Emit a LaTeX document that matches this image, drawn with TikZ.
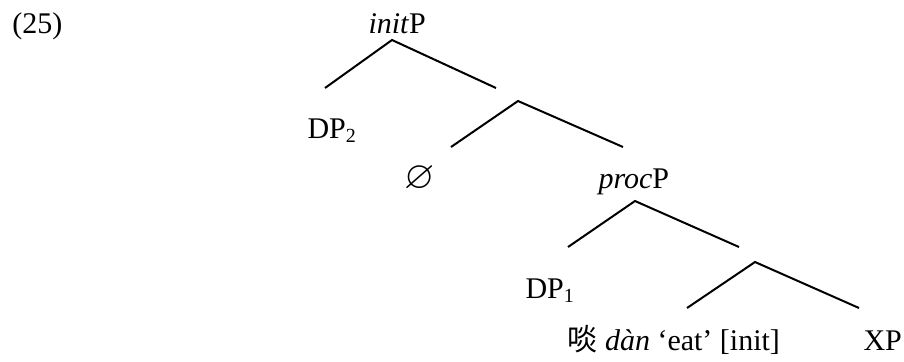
\documentclass[tikz,border=0pt]{standalone}
\usepackage{fontspec}
\usepackage{amssymb}
\setmainfont{Liberation Serif}
\newfontfamily\cjk{Noto Sans CJK SC}
\begin{document}
\begin{tikzpicture}[x=0.4pt,y=-0.4pt,
  lab/.style={anchor=base west,inner sep=0pt,font=\fontsize{12}{14}\selectfont},
  branch/.style={line width=0.8pt,line cap=butt}]
\useasboundingbox (0,0) rectangle (904,361);
\newcommand{\subnum}[1]{\raisebox{-1.6pt}{\fontsize{8}{8}\selectfont #1}}
% labels
\node[lab] (ex) at (12,33) {(25)};
\node[lab] (initP) at (368,33) {\textit{init}P};
\node[lab] (DPtwo) at (307,138) {DP\subnum{2}};
\node[lab] (empty) at (404,188) {\scalebox{1.3}{$\varnothing$}};
\node[lab] (procP) at (598,188) {\textit{proc}P};
\node[lab] (DPone) at (525,298) {DP\subnum{1}};
\node[lab] (verb) at (567,350) {{\cjk 啖} \textit{dàn} ‘eat’ [init]};
\node[lab] (XP) at (863,350) {XP};
% branch points
\coordinate (a0) at (392,40);  \coordinate (a0l) at (325,88);  \coordinate (a0r) at (496,88);
\coordinate (a1) at (518,101); \coordinate (a1l) at (451,147); \coordinate (a1r) at (623,147);
\coordinate (a2) at (635,201); \coordinate (a2l) at (568,247); \coordinate (a2r) at (739,247);
\coordinate (a3) at (755,262); \coordinate (a3l) at (687,308); \coordinate (a3r) at (859,308);
\draw[branch] (a0l) -- (a0) -- (a0r);
\draw[branch] (a1l) -- (a1) -- (a1r);
\draw[branch] (a2l) -- (a2) -- (a2r);
\draw[branch] (a3l) -- (a3) -- (a3r);
\end{tikzpicture}
\end{document}
